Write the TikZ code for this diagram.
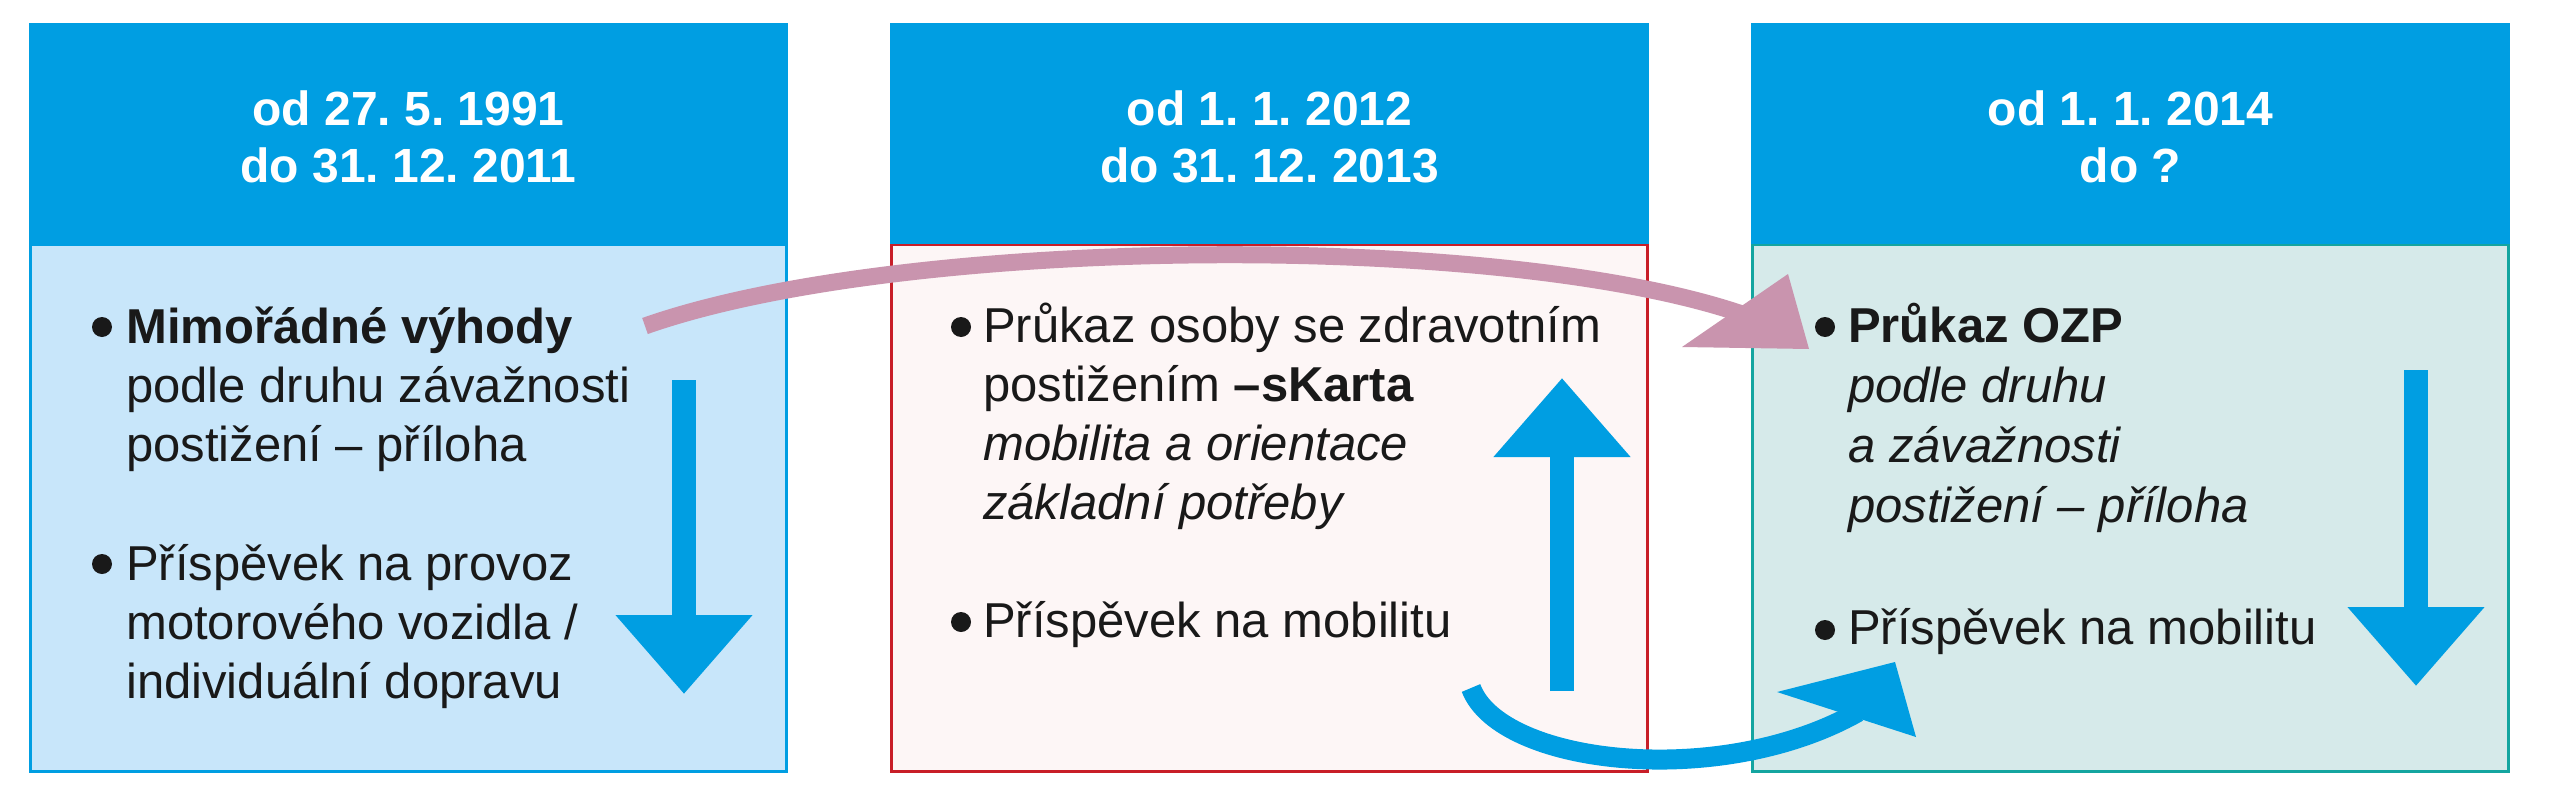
\documentclass[tikz,border=0pt]{standalone}
\usepackage{fontspec}
\setmainfont{Liberation Sans}
\usetikzlibrary{arrows.meta}
\definecolor{hdrblue}{RGB}{0,158,226}
\definecolor{fillA}{RGB}{200,230,250}
\definecolor{fillB}{RGB}{253,246,246}
\definecolor{lineB}{RGB}{200,30,40}
\definecolor{fillC}{RGB}{214,234,234}
\definecolor{lineC}{RGB}{20,165,160}
\definecolor{pinkarr}{RGB}{201,148,174}
\definecolor{txt}{RGB}{25,25,25}
\frenchspacing
\tikzset{
  hdr/.style={text=white, font=\fontsize{48}{57}\selectfont\bfseries, anchor=base, inner sep=0pt},
  body/.style={text=txt, font=\fontsize{49}{59}\selectfont, anchor=base west, inner sep=0pt},
  bul/.style={fill=txt, circle, minimum size=20pt, inner sep=0pt},
  boxborder/.style={line width=3pt},
  straightarrow/.style={draw=hdrblue, line width=24pt, -{Triangle[length=79pt,width=132pt]}},
  pinkshaft/.style={draw=pinkarr, line width=17pt},
  blueshaft/.style={draw=hdrblue, line width=20pt}
}
\begin{document}
\begin{tikzpicture}[x=1pt,y=-1pt]
\useasboundingbox (0,0) rectangle (2561,800);
\fill[white] (0,0) rectangle (2561,800);
% boxes
\filldraw[fill=fillA, draw=hdrblue, boxborder] (30.5,244) rectangle (786.5,771.5);
\fill[hdrblue] (29,23) rectangle (788,244);
\filldraw[fill=fillB, draw=lineB, boxborder] (891.5,244) rectangle (1647.5,771.5);
\fill[hdrblue] (890,23) rectangle (1649,244);
\filldraw[fill=fillC, draw=lineC, boxborder] (1752.5,244) rectangle (2508.5,771.5);
\fill[hdrblue] (1751,23) rectangle (2510,244);
% headers
\node[hdr] (h1a) at (408.5,125) {od 27. 5. 1991};
\node[hdr] (h1b) at (408.5,182) {do 31. 12. 2011};
\node[hdr] (h2a) at (1269.5,125) {od 1. 1. 2012};
\node[hdr] (h2b) at (1269.5,182) {do 31. 12. 2013};
\node[hdr] (h3a) at (2130.5,125) {od 1. 1. 2014};
\node[hdr] (h3b) at (2130.5,182) {do ?};
% box 1 text
\node[bul] (b1a) at (102,327) {};
\node[body] (t1a) at (126,343) {\textbf{Mimořádné výhody}};
\node[body] (t1b) at (126,402) {podle druhu závažnosti};
\node[body] (t1c) at (126,461) {postižení – příloha};
\node[bul] (b1b) at (102,564) {};
\node[body] (t1d) at (126,580) {Příspěvek na provoz};
\node[body] (t1e) at (126,639) {motorového vozidla /};
\node[body] (t1f) at (126,698) {individuální dopravu};
% box 2 text
\node[bul] (b2a) at (961,327) {};
\node[body] (t2a) at (983,342) {Průkaz osoby se zdravotním};
\node[body] (t2b) at (983,401) {postižením \textbf{–sKarta}};
\node[body] (t2c) at (983,460) {\textit{mobilita a orientace}};
\node[body] (t2d) at (983,519) {\textit{základní potřeby}};
\node[bul] (b2b) at (961,622) {};
\node[body] (t2e) at (983,637) {Příspěvek na mobilitu};
% box 3 text
\node[bul] (b3a) at (1825,327) {};
\node[body] (t3a) at (1848,342) {\textbf{Průkaz OZP}};
\node[body] (t3b) at (1848,402) {\textit{podle druhu}};
\node[body] (t3c) at (1848,462) {\textit{a závažnosti}};
\node[body] (t3d) at (1848,522) {\textit{postižení – příloha}};
\node[bul] (b3b) at (1825,630) {};
\node[body] (t3e) at (1848,644) {Příspěvek na mobilitu};
% straight arrows
\coordinate (s1a) at (684,380);
\coordinate (s1b) at (684,694);
\coordinate (s2a) at (1562,691);
\coordinate (s2b) at (1562,378);
\coordinate (s3a) at (2416,370);
\coordinate (s3b) at (2416,686);
\draw[straightarrow] (s1a) -- (s1b);
\draw[straightarrow] (s2a) -- (s2b);
\draw[straightarrow] (s3a) -- (s3b);
% pink curved arrow
\coordinate (p0) at (645,326);
\coordinate (p1) at (900,236);
\coordinate (p2) at (1500,230);
\coordinate (p3) at (1745,315);
\coordinate (ptip) at (1809,349);
\coordinate (pA) at (1788,274);
\coordinate (pB) at (1682,347);
\draw[pinkshaft] (p0) .. controls (p1) and (p2) .. (p3);
\fill[pinkarr] (ptip) -- (pA) -- (pB) -- cycle;
% blue curved arrow
\coordinate (q0) at (1471,688);
\coordinate (q1) at (1500,765);
\coordinate (q2) at (1720,790);
\coordinate (q3) at (1858,712);
\coordinate (qtip) at (1895,662);
\coordinate (qA) at (1777,692);
\coordinate (qB) at (1916,737);
\draw[blueshaft] (q0) .. controls (q1) and (q2) .. (q3);
\fill[hdrblue] (qtip) -- (qA) -- (qB) -- cycle;
\end{tikzpicture}
\end{document}
